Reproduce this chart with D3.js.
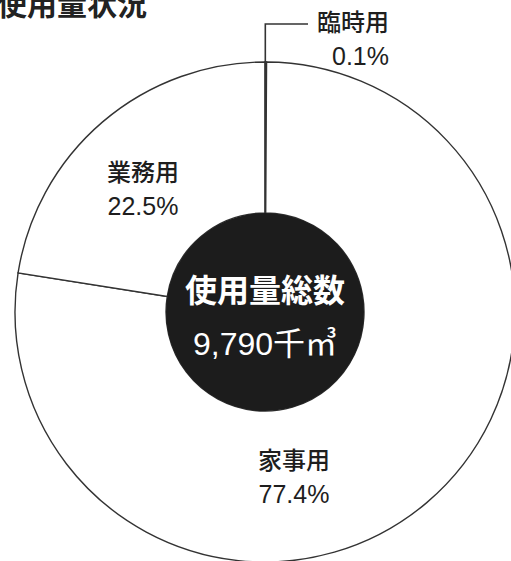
<!DOCTYPE html>
<html><head><meta charset="utf-8">
<script src="https://cdn.jsdelivr.net/npm/d3@7"></script>
<style>
html,body{margin:0;padding:0;background:#fff;overflow:hidden;}
svg{display:block;}
text{font-family:"Liberation Sans","Noto Sans CJK JP","Noto Sans",sans-serif;}
</style></head>
<body>
<svg id="c" width="511" height="561"></svg>
<script>
const title = "使用量状況";
const categories = ["臨時用", "家事用", "業務用"];
const shares = [0.1, 77.4, 22.5];
const centerTitle = "使用量総数";
const totalLabel = "9,790千㎥";

const W = 511, H = 561;
const cx = 265, cy = 312, R = 250, r0 = 99;
const svg = d3.select("#c");

svg.append("text").attr("x", -3).attr("y", 15)
  .attr("font-size", 30).attr("font-weight", 700).attr("fill", "#222")
  .text(title);

const g = svg.append("g").attr("transform", `translate(${cx},${cy})`);
const pie = d3.pie().sort(null).value(d => d)(shares);
const arc = d3.arc().innerRadius(r0).outerRadius(R);

g.selectAll("path.slice").data(pie).join("path")
  .attr("class", "slice")
  .attr("d", arc)
  .attr("fill", "#fff")
  .attr("stroke", "#333")
  .attr("stroke-width", 1.4);

// leader for the tiny slice
const p0 = pie[0];
const mid = (p0.startAngle + p0.endAngle) / 2;
const lx = r0 * Math.sin(mid);
g.append("path")
  .attr("d", `M${lx},${-r0} L${lx},${24 - cy} L${308 - cx},${24 - cy}`)
  .attr("fill", "none").attr("stroke", "#333").attr("stroke-width", 1.6);

// inner disk
g.append("circle").attr("r", r0).attr("fill", "#1c1c1c");
g.append("text").attr("x", 0).attr("y", -10).attr("text-anchor", "middle")
  .attr("font-size", 32).attr("font-weight", 700).attr("fill", "#fff").text(centerTitle);
g.append("text").attr("x", 0).attr("y", 43).attr("text-anchor", "middle")
  .attr("font-size", 32).attr("font-weight", 400).attr("fill", "#fff").text(totalLabel);

// labels
const labelPos = [
  {x: 389, y: 31, anchor: "end"},
  {x: 294, y: 469, anchor: "middle"},
  {x: 143, y: 181, anchor: "middle"}
];
categories.forEach((c, i) => {
  const p = labelPos[i];
  const t = svg.append("text").attr("text-anchor", p.anchor).attr("fill", "#1e1e1e");
  t.append("tspan").attr("x", p.x).attr("y", p.y).attr("font-size", 24).attr("font-weight", 500).text(c);
  t.append("tspan").attr("x", p.x).attr("y", p.y + 34).attr("font-size", 25).text(d3.format(".1f")(shares[i]) + "%");
});
</script>
</body></html>
